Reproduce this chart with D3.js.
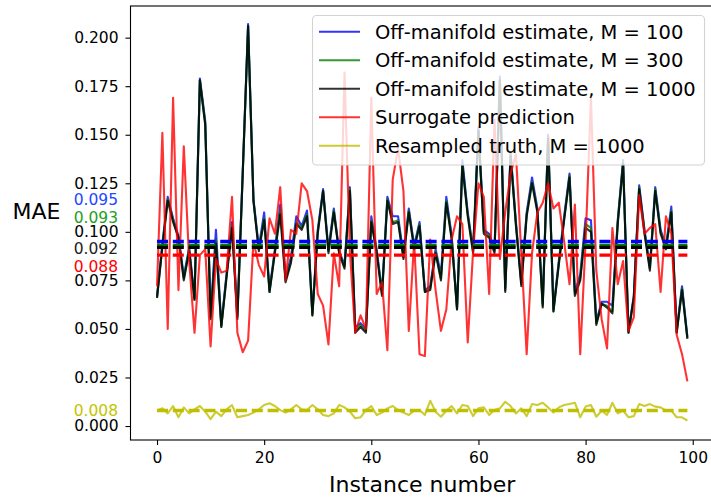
<!DOCTYPE html>
<html>
<head>
<meta charset="utf-8">
<script src="https://cdn.jsdelivr.net/npm/d3@7"></script>
<style>
  body { margin: 0; background: #fff; }
  svg { display: block; font-family: "DejaVu Sans", sans-serif; }
</style>
</head>
<body>
<svg id="chart" width="711" height="503"></svg>
<script>
// MAE per instance
var offM100 = [0.067,0.094,0.118,0.107,0.098,0.077,0.092,0.066,0.179,0.157,
  0.057,0.101,0.052,0.079,0.105,0.057,0.131,0.207,0.117,0.092,
  0.110,0.070,0.091,0.114,0.076,0.087,0.108,0.103,0.111,0.058,
  0.101,0.122,0.091,0.112,0.090,0.083,0.123,0.051,0.053,0.050,
  0.108,0.091,0.069,0.118,0.108,0.108,0.088,0.112,0.093,0.105,
  0.070,0.072,0.091,0.078,0.118,0.098,0.061,0.137,0.110,0.091,
  0.154,0.101,0.099,0.091,0.180,0.071,0.141,0.105,0.074,0.110,
  0.128,0.112,0.063,0.150,0.060,0.085,0.108,0.130,0.069,0.078,
  0.107,0.106,0.054,0.064,0.064,0.062,0.106,0.137,0.049,0.067,
  0.124,0.101,0.082,0.123,0.101,0.093,0.113,0.049,0.072,0.046];

var offM300 = [0.066,0.093,0.117,0.106,0.097,0.076,0.091,0.065,0.178,0.156,
  0.056,0.096,0.051,0.078,0.103,0.056,0.130,0.206,0.116,0.091,
  0.107,0.069,0.090,0.111,0.075,0.085,0.105,0.102,0.109,0.057,
  0.100,0.121,0.090,0.111,0.089,0.082,0.122,0.049,0.052,0.049,
  0.106,0.090,0.068,0.117,0.105,0.106,0.087,0.111,0.092,0.104,
  0.069,0.071,0.090,0.076,0.116,0.097,0.060,0.135,0.109,0.090,
  0.152,0.100,0.098,0.090,0.178,0.070,0.140,0.104,0.073,0.109,
  0.126,0.111,0.062,0.149,0.059,0.084,0.107,0.129,0.068,0.076,
  0.104,0.102,0.053,0.063,0.062,0.059,0.105,0.136,0.048,0.066,
  0.123,0.100,0.081,0.122,0.100,0.092,0.111,0.048,0.071,0.045];

var offM1000 = [0.066,0.092,0.116,0.105,0.097,0.075,0.090,0.065,0.178,0.155,
  0.055,0.094,0.051,0.077,0.102,0.055,0.130,0.206,0.116,0.090,
  0.106,0.069,0.089,0.109,0.074,0.084,0.104,0.101,0.108,0.057,
  0.099,0.121,0.089,0.110,0.089,0.081,0.121,0.048,0.051,0.048,
  0.105,0.089,0.067,0.116,0.104,0.105,0.086,0.110,0.091,0.103,
  0.069,0.070,0.089,0.075,0.115,0.096,0.060,0.134,0.108,0.089,
  0.152,0.099,0.097,0.089,0.178,0.069,0.139,0.103,0.072,0.108,
  0.125,0.110,0.061,0.148,0.059,0.083,0.106,0.128,0.067,0.075,
  0.102,0.100,0.052,0.063,0.061,0.058,0.104,0.135,0.048,0.066,
  0.122,0.099,0.080,0.121,0.099,0.091,0.110,0.048,0.070,0.045];

var surrogate = [0.072,0.151,0.050,0.169,0.070,0.144,0.085,0.048,0.088,0.091,
  0.041,0.086,0.079,0.080,0.118,0.048,0.038,0.044,0.095,0.083,
  0.077,0.107,0.099,0.123,0.075,0.101,0.099,0.125,0.121,0.106,
  0.068,0.062,0.042,0.089,0.072,0.182,0.090,0.048,0.057,0.050,
  0.169,0.068,0.074,0.039,0.127,0.143,0.121,0.049,0.095,0.037,
  0.036,0.096,0.070,0.049,0.060,0.096,0.108,0.104,0.043,0.090,
  0.125,0.118,0.068,0.158,0.086,0.110,0.130,0.140,0.089,0.037,
  0.089,0.110,0.115,0.125,0.112,0.115,0.095,0.073,0.114,0.037,
  0.095,0.169,0.080,0.055,0.040,0.102,0.073,0.085,0.049,0.056,
  0.119,0.099,0.102,0.104,0.069,0.108,0.099,0.047,0.037,0.023];

var resampled = [0.0080,0.0091,0.0065,0.0103,0.0045,0.0096,0.0065,0.0086,0.0103,0.0074,
  0.0036,0.0074,0.0051,0.0086,0.0108,0.0045,0.0051,0.0057,0.0069,0.0086,
  0.0108,0.0117,0.0103,0.0082,0.0069,0.0086,0.0108,0.0086,0.0082,0.0108,
  0.0086,0.0057,0.0051,0.0065,0.0108,0.0096,0.0074,0.0040,0.0045,0.0082,
  0.0103,0.0057,0.0069,0.0091,0.0103,0.0082,0.0069,0.0057,0.0079,0.0082,
  0.0057,0.0130,0.0074,0.0048,0.0079,0.0103,0.0065,0.0108,0.0103,0.0051,
  0.0091,0.0096,0.0057,0.0082,0.0091,0.0125,0.0103,0.0065,0.0091,0.0051,
  0.0113,0.0108,0.0120,0.0096,0.0069,0.0096,0.0108,0.0113,0.0120,0.0045,
  0.0100,0.0108,0.0048,0.0079,0.0057,0.0120,0.0065,0.0079,0.0045,0.0051,
  0.0113,0.0103,0.0113,0.0100,0.0096,0.0079,0.0079,0.0045,0.0045,0.0028];

var seriesNames = ["Off-manifold estimate, M = 100", "Off-manifold estimate, M = 300",
  "Off-manifold estimate, M = 1000", "Surrogate prediction", "Resampled truth, M = 1000"];
var means = [0.095, 0.093, 0.092, 0.088, 0.008];
var meanLabels = ["0.095", "0.093", "0.092", "0.088", "0.008"];
var yTicks = [0, 0.025, 0.05, 0.075, 0.1, 0.125, 0.15, 0.175, 0.2];
var xTicks = [0, 20, 40, 60, 80, 100];

// styling (not data)
var lineColors = ["#0000ff", "#008000", "#000000", "#ff0000", "#bfbf00"];
var labelColors = ["#2447ff", "#22a022", "#222222", "#ff0000", "#c4c400"];
var labelAt = [0.1168, 0.1073, 0.0915, 0.0820, 0.0080]; // where the mean labels sit on the y axis

var allSeries = [offM100, offM300, offM1000, surrogate, resampled];

var svg = d3.select("#chart");
var plotLeft = 130.5, plotRight = 713.9, plotTop = 6, plotBottom = 440;

var x = d3.scaleLinear().domain([-4.95, 103.95]).range([plotLeft, plotRight]);
var y = d3.scaleLinear().domain([-0.0072, 0.2163]).range([plotBottom, plotTop]);

var line = d3.line()
  .x(function(d, i){ return x(i); })
  .y(function(d){ return y(d); });

// data lines (alpha 0.8, so black over green/blue turns very dark)
svg.append("g").selectAll("path")
  .data(allSeries).enter()
  .append("path")
  .attr("d", line)
  .attr("fill", "none")
  .attr("stroke", function(d, i){ return lineColors[i]; })
  .attr("stroke-opacity", 0.8)
  .attr("stroke-width", 2.1)
  .attr("stroke-linejoin", "round");

// dashed mean lines
svg.append("g").selectAll("line")
  .data(means).enter()
  .append("line")
  .attr("x1", x(0))
  .attr("x2", x(99))
  .attr("y1", function(d){ return y(d); })
  .attr("y2", function(d){ return y(d); })
  .attr("stroke", function(d, i){ return lineColors[i]; })
  .attr("stroke-width", 3.4)
  .attr("stroke-dasharray", "11,4.8");

// axes
var yAxis = svg.append("g")
  .attr("transform", "translate(" + plotLeft + ",0)")
  .call(d3.axisLeft(y).tickValues(yTicks).tickFormat(d3.format(".3f")).tickSize(5).tickPadding(7).tickSizeOuter(0));
var xAxis = svg.append("g")
  .attr("transform", "translate(0," + plotBottom + ")")
  .call(d3.axisBottom(x).tickValues(xTicks).tickFormat(d3.format("d")).tickSize(5).tickPadding(7).tickSizeOuter(0));

[yAxis, xAxis].forEach(function(a){
  a.select(".domain").remove();
  a.selectAll("line").attr("stroke", "#000").attr("stroke-width", 1.1);
  a.selectAll("text").attr("font-size", "15.5px").attr("fill", "#000")
    .attr("font-family", "DejaVu Sans, sans-serif");
});

// mean value labels next to the y ticks
svg.append("g").selectAll("text")
  .data(meanLabels).enter()
  .append("text")
  .text(function(d){ return d; })
  .attr("x", 118)
  .attr("y", function(d, i){ return y(labelAt[i]); })
  .attr("dy", "0.35em")
  .attr("text-anchor", "end")
  .attr("font-size", "15.5px")
  .attr("fill", function(d, i){ return labelColors[i]; });

// frame
svg.append("rect")
  .attr("x", plotLeft).attr("y", plotTop)
  .attr("width", plotRight - plotLeft).attr("height", plotBottom - plotTop)
  .attr("fill", "none").attr("stroke", "#000").attr("stroke-width", 1.1);

// axis labels
svg.append("text").text("MAE")
  .attr("x", 12.5).attr("y", 211).attr("dy", "0.35em")
  .attr("font-size", "22px");
svg.append("text").text("Instance number")
  .attr("x", (plotLeft + plotRight) / 2).attr("y", 491.5)
  .attr("text-anchor", "middle")
  .attr("font-size", "22px");

// legend
var legend = svg.append("g");
legend.append("rect")
  .attr("x", 312.5).attr("y", 15.5)
  .attr("width", 392).attr("height", 149.5)
  .attr("rx", 4).attr("ry", 4)
  .attr("fill", "#fff").attr("fill-opacity", 0.8)
  .attr("stroke", "#d3d3d3").attr("stroke-width", 1.1);

var rows = legend.selectAll(".row")
  .data(seriesNames).enter()
  .append("g")
  .attr("class", "row")
  .attr("transform", function(d, i){ return "translate(0," + (31.7 + i * 28.5) + ")"; });

rows.append("line")
  .attr("x1", 319).attr("x2", 360)
  .attr("stroke", function(d, i){ return lineColors[i]; })
  .attr("stroke-opacity", 0.8)
  .attr("stroke-width", 2.1);

rows.append("text")
  .text(function(d){ return d; })
  .attr("x", 375)
  .attr("dy", "0.36em")
  .attr("font-size", "19.5px")
  .attr("fill", "#000");
</script>
</body>
</html>
